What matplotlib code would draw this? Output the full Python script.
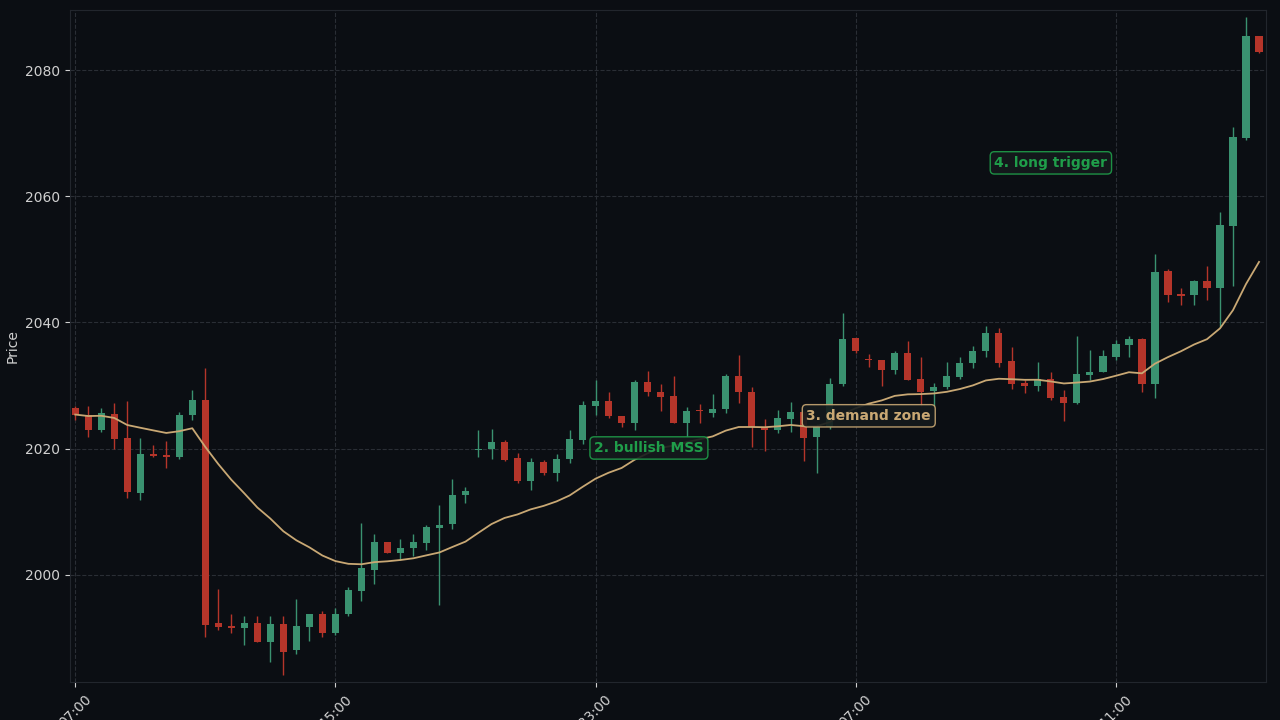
import numpy as np
import pandas as pd
import matplotlib
matplotlib.use("Agg")
import matplotlib.pyplot as plt

# OHLC, one candle per index
opens = [2026.5, 2025.3, 2022.9, 2025.5, 2021.7, 2012.9, 2019.2, 2019.0, 2018.6, 2025.3,
         2027.7, 1992.4, 1991.8, 1991.5, 1992.4, 1989.4, 1992.2, 1988.0, 1991.7, 1993.8,
         1990.7, 1993.7, 1997.5, 2000.7, 2005.2, 2003.5, 2004.2, 2005.1, 2007.4, 2008.0,
         2012.6, 2019.7, 2019.9, 2021.1, 2018.5, 2014.8, 2017.9, 2016.2, 2018.3, 2021.3,
         2026.8, 2027.6, 2025.2, 2024.1, 2030.6, 2029.0, 2028.35, 2024.1, 2026.1, 2025.7,
         2026.3, 2031.5, 2029.0, 2023.5, 2023.0, 2024.7, 2025.8, 2021.9, 2023.5, 2030.2,
         2037.5, 2034.2, 2034.0, 2032.5, 2035.2, 2031.0, 2029.2, 2029.7, 2031.3, 2033.5,
         2035.4, 2038.3, 2033.9, 2030.4, 2030.0, 2031.0, 2028.2, 2027.3, 2031.7, 2032.2,
         2034.6, 2036.5, 2037.4, 2030.3, 2048.2, 2044.5, 2044.3, 2046.6, 2045.5, 2055.3,
         2069.3, 2085.4]
closes = [2025.4, 2022.9, 2025.6, 2021.6, 2013.1, 2019.2, 2018.9, 2018.6, 2025.4, 2027.7,
          1992.1, 1991.7, 1991.5, 1992.4, 1989.4, 1992.2, 1987.8, 1991.8, 1993.8, 1990.7,
          1993.8, 1997.6, 2001.0, 2005.2, 2003.4, 2004.3, 2005.2, 2007.5, 2007.9, 2012.7,
          2013.3, 2020.0, 2021.1, 2018.2, 2014.9, 2017.9, 2016.2, 2018.4, 2021.5, 2026.9,
          2027.6, 2025.1, 2024.1, 2030.6, 2028.9, 2028.25, 2024.1, 2026.0, 2025.9, 2026.3,
          2031.5, 2028.9, 2023.5, 2023.0, 2024.9, 2025.8, 2021.7, 2023.5, 2030.3, 2037.4,
          2035.5, 2034.0, 2032.5, 2035.2, 2030.9, 2029.0, 2029.7, 2031.5, 2033.6, 2035.5,
          2038.3, 2033.6, 2030.3, 2030.0, 2031.0, 2028.1, 2027.3, 2031.8, 2032.2, 2034.7,
          2036.6, 2037.4, 2030.3, 2048.0, 2044.4, 2044.25, 2046.6, 2045.4, 2055.4, 2069.4,
          2085.4, 2082.9]
highs = [2026.7, 2026.8, 2026.5, 2027.2, 2027.5, 2021.7, 2020.6, 2021.2, 2025.8, 2029.3,
         2032.8, 1997.7, 1993.7, 1993.5, 1993.4, 1993.5, 1993.4, 1996.1, 1993.8, 1994.3,
         1994.7, 1998.1, 2008.2, 2006.5, 2005.2, 2005.7, 2006.5, 2007.9, 2011.1, 2015.2,
         2013.9, 2023.0, 2023.1, 2021.4, 2019.3, 2018.5, 2018.2, 2019.2, 2023.0, 2027.5,
         2030.9, 2029.0, 2025.2, 2030.9, 2032.3, 2030.3, 2031.5, 2026.6, 2027.1, 2028.7,
         2031.9, 2034.8, 2029.8, 2024.7, 2026.1, 2027.4, 2026.0, 2023.9, 2031.2, 2041.5,
         2037.6, 2035.0, 2034.0, 2035.4, 2037.0, 2034.5, 2030.4, 2033.7, 2034.5, 2036.3,
         2039.5, 2039.1, 2036.1, 2030.9, 2033.7, 2032.2, 2029.3, 2037.9, 2035.6, 2035.6,
         2037.2, 2037.9, 2037.6, 2050.8, 2048.5, 2045.5, 2046.8, 2048.9, 2057.5, 2071.0,
         2088.4, 2085.4]
lows = [2024.5, 2021.9, 2022.6, 2020.0, 2012.2, 2011.8, 2018.7, 2016.9, 2018.4, 2024.5,
        1990.1, 1991.2, 1990.8, 1988.9, 1989.3, 1986.1, 1984.1, 1987.4, 1989.5, 1990.2,
        1990.5, 1993.5, 1995.8, 1998.5, 2003.4, 2002.4, 2002.9, 2003.9, 1995.2, 2007.2,
        2011.3, 2018.6, 2018.3, 2018.1, 2014.6, 2013.5, 2015.8, 2014.9, 2017.7, 2020.7,
        2025.3, 2024.8, 2023.5, 2023.0, 2028.3, 2026.0, 2024.0, 2021.9, 2024.0, 2025.0,
        2025.6, 2027.3, 2020.2, 2019.6, 2022.5, 2022.7, 2018.1, 2016.1, 2023.1, 2030.0,
        2035.1, 2032.9, 2029.9, 2031.9, 2030.8, 2026.7, 2026.7, 2029.5, 2031.0, 2032.7,
        2034.6, 2033.0, 2029.4, 2028.8, 2029.1, 2027.7, 2024.4, 2027.0, 2030.9, 2032.1,
        2034.1, 2034.5, 2028.9, 2028.1, 2043.3, 2042.8, 2042.8, 2043.5, 2039.3, 2045.7,
        2069.0, 2082.7]

tick_idx = [0, 20, 40, 60, 80]
tick_labels = ["07:00", "15:00", "23:00", "07:00", "11:00"]

notes = ["2. bullish MSS", "3. demand zone", "4. long trigger"]
note_x = [44.1, 61.0, 75.0]
note_y = [2020.1, 2025.2, 2065.3]
note_col = ["#1f9e4a", "#c9a874", "#1f9e4a"]

BG = "#0b0e13"
UP = "#3a9270"
DOWN = "#b5352a"

o, c, h, l = map(np.array, (opens, closes, highs, lows))
x = np.arange(len(o))
ema = pd.Series(c).ewm(span=20, adjust=False).mean()

fig = plt.figure(figsize=(12.8, 7.2), dpi=100, facecolor=BG)
ax = fig.add_axes([0.0547, 0.0528, 0.934, 0.933], facecolor=BG)

up = c >= o
col = np.where(up, UP, DOWN)
ax.vlines(x, l, h, colors=col, lw=1, zorder=2)
ax.bar(x, np.abs(c - o), bottom=np.minimum(o, c), width=0.55, color=col, zorder=3)
ax.plot(x, ema, color="#c9a874", lw=1.3, zorder=4)

for t, xx, yy, cc in zip(notes, note_x, note_y, note_col):
    ax.text(xx, yy, t, color=cc, fontsize=10, fontweight="bold", ha="center", va="center", zorder=5,
            bbox=dict(boxstyle="round,pad=0.3", fc="#141a1c", ec=cc, lw=1, alpha=0.9))

ax.set_xlim(-0.4, 91.5)
ax.set_ylim(1983.0, 2089.5)
ax.set_xticks(tick_idx)
ax.set_xticklabels(tick_labels, rotation=45, color="#d0d0d0", fontsize=10)
ax.set_yticks([2000, 2020, 2040, 2060, 2080])
ax.tick_params(colors="#d0d0d0", labelsize=10)
ax.set_ylabel("Price", color="#d0d0d0", fontsize=10)
ax.grid(True, color="#2a2e35", ls="--", lw=0.8)
ax.set_axisbelow(True)
for s in ax.spines.values():
    s.set_color("#22262d")

fig.savefig("out.png", dpi=100, facecolor=BG)
